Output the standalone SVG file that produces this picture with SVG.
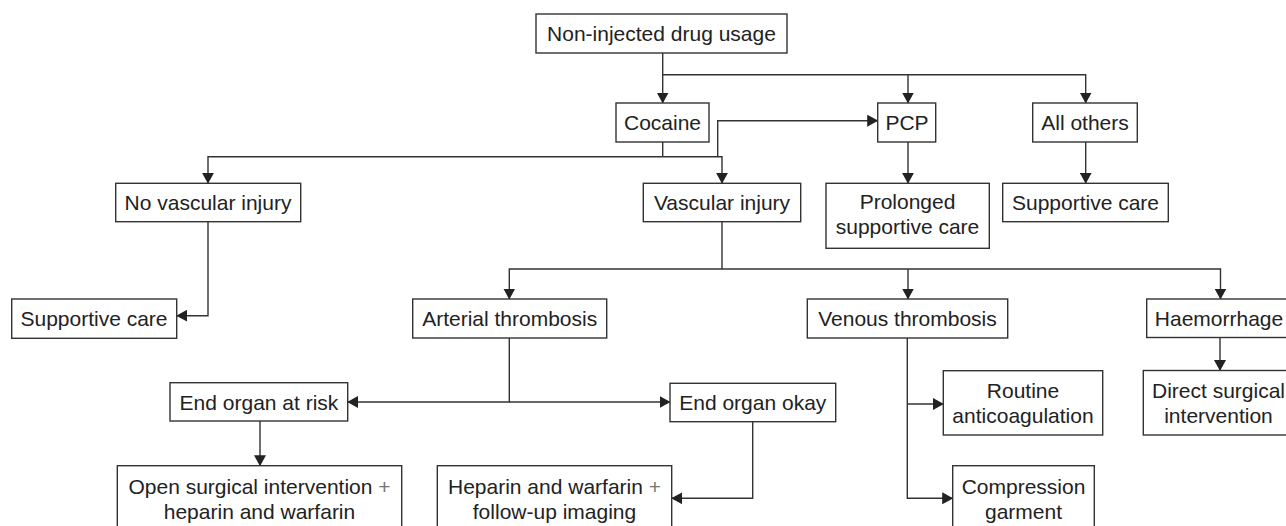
<svg xmlns="http://www.w3.org/2000/svg" width="1286" height="526" viewBox="0 0 1286 526">
  <style>
    .box { fill: #ffffff; stroke: #333333; stroke-width: 1.4; }
    .lbl { font-family: "Liberation Sans", Arial, Helvetica, sans-serif; font-size: 21px; fill: #222222; text-anchor: middle; }
    .plus { fill: #777777; }
    .wire { fill: none; stroke: #333333; stroke-width: 1.4; }
    .arr { marker-end: url(#head); }
  </style>
  <defs>
    <marker id="head" markerUnits="userSpaceOnUse" markerWidth="11" markerHeight="12" refX="10.5" refY="6" orient="auto">
      <path d="M0,0 L11,6 L0,12 z" fill="#222222"/>
    </marker>
  </defs>
  <rect width="1286" height="526" fill="#ffffff"/>

  <!-- connectors -->
  <g id="connectors">
    <path class="wire arr" d="M662.7,53 V103"/>
    <path class="wire arr" d="M662.7,74.7 H1085.7 V103"/>
    <path class="wire arr" d="M908,74.7 V103"/>
    <path class="wire" d="M662.7,142 V156.7"/>
    <path class="wire arr" d="M662.7,156.7 H208 V183.3"/>
    <path class="wire arr" d="M662.7,156.7 H722 V183.3"/>
    <path class="wire arr" d="M717.7,156.7 V120.7 H877.7"/>
    <path class="wire arr" d="M908,142 V183.3"/>
    <path class="wire arr" d="M1085.7,142 V183.3"/>
    <path class="wire arr" d="M208,221.7 V315.7 H176.7"/>
    <path class="wire" d="M722,221.7 V269"/>
    <path class="wire arr" d="M722,269 H509.3 V299"/>
    <path class="wire arr" d="M722,269 H1220.5 V299"/>
    <path class="wire arr" d="M908,269 V299"/>
    <path class="wire arr" d="M509.3,338 V402 H347.7"/>
    <path class="wire arr" d="M509.3,402 H670"/>
    <path class="wire arr" d="M260,421 V465.7"/>
    <path class="wire arr" d="M752.7,421.7 V498.3 H671.7"/>
    <path class="wire arr" d="M907.3,338 V498.3 H952.7"/>
    <path class="wire arr" d="M907.3,404 H943.3"/>
    <path class="wire arr" d="M1220,337.5 V370.5"/>
  </g>

  <!-- nodes -->
  <g id="n-noninjected">
    <rect class="box" x="536" y="14" width="251" height="39"/>
    <text class="lbl" x="661.5" y="41">Non-injected drug usage</text>
  </g>
  <g id="n-cocaine">
    <rect class="box" x="616" y="103" width="93" height="39"/>
    <text class="lbl" x="662.5" y="130">Cocaine</text>
  </g>
  <g id="n-pcp">
    <rect class="box" x="877.7" y="103" width="58" height="39"/>
    <text class="lbl" x="907" y="130">PCP</text>
  </g>
  <g id="n-allothers">
    <rect class="box" x="1032.7" y="103" width="104.6" height="39"/>
    <text class="lbl" x="1085" y="130">All others</text>
  </g>
  <g id="n-novascular">
    <rect class="box" x="115.7" y="183.3" width="185" height="38.4"/>
    <text class="lbl" x="208" y="210">No vascular injury</text>
  </g>
  <g id="n-vascular">
    <rect class="box" x="643.3" y="183.3" width="157.4" height="38.4"/>
    <text class="lbl" x="722" y="210">Vascular injury</text>
  </g>
  <g id="n-prolonged">
    <rect class="box" x="826" y="183.3" width="163.3" height="65"/>
    <text class="lbl" x="907.5" y="208.5">Prolonged</text>
    <text class="lbl" x="907.5" y="233.5">supportive care</text>
  </g>
  <g id="n-supportive-right">
    <rect class="box" x="1002.7" y="183.3" width="165.6" height="38.4"/>
    <text class="lbl" x="1085.5" y="210">Supportive care</text>
  </g>
  <g id="n-supportive-left">
    <rect class="box" x="11.7" y="299" width="165" height="39.3"/>
    <text class="lbl" x="94" y="326">Supportive care</text>
  </g>
  <g id="n-arterial">
    <rect class="box" x="412.7" y="299" width="194" height="39"/>
    <text class="lbl" x="509.7" y="326">Arterial thrombosis</text>
  </g>
  <g id="n-venous">
    <rect class="box" x="807.3" y="299" width="200.4" height="39"/>
    <text class="lbl" x="907.5" y="326">Venous thrombosis</text>
  </g>
  <g id="n-haemorrhage">
    <rect class="box" x="1146.7" y="299" width="150" height="38.5"/>
    <text class="lbl" x="1219" y="326">Haemorrhage</text>
  </g>
  <g id="n-endrisk">
    <rect class="box" x="170" y="382.7" width="177.7" height="38.3"/>
    <text class="lbl" x="259" y="409.5">End organ at risk</text>
  </g>
  <g id="n-endokay">
    <rect class="box" x="670" y="383.3" width="165.7" height="38.4"/>
    <text class="lbl" x="752.8" y="410">End organ okay</text>
  </g>
  <g id="n-routine">
    <rect class="box" x="943.3" y="370.7" width="159.4" height="64.3"/>
    <text class="lbl" x="1023" y="398">Routine</text>
    <text class="lbl" x="1023" y="423">anticoagulation</text>
  </g>
  <g id="n-direct">
    <rect class="box" x="1143.3" y="370.5" width="160" height="64.5"/>
    <text class="lbl" x="1218.5" y="398">Direct surgical</text>
    <text class="lbl" x="1218.5" y="423">intervention</text>
  </g>
  <g id="n-open">
    <rect class="box" x="117.3" y="465.7" width="284.4" height="70"/>
    <text class="lbl" x="259.5" y="494">Open surgical intervention <tspan class="plus">+</tspan></text>
    <text class="lbl" x="259.5" y="518.5">heparin and warfarin</text>
  </g>
  <g id="n-heparin">
    <rect class="box" x="437.3" y="465.7" width="234.4" height="70"/>
    <text class="lbl" x="554.5" y="494">Heparin and warfarin <tspan class="plus">+</tspan></text>
    <text class="lbl" x="554.5" y="518.5">follow-up imaging</text>
  </g>
  <g id="n-compression">
    <rect class="box" x="952.7" y="465.7" width="141.6" height="70"/>
    <text class="lbl" x="1023.5" y="493.5">Compression</text>
    <text class="lbl" x="1023.5" y="518.5">garment</text>
  </g>
</svg>
